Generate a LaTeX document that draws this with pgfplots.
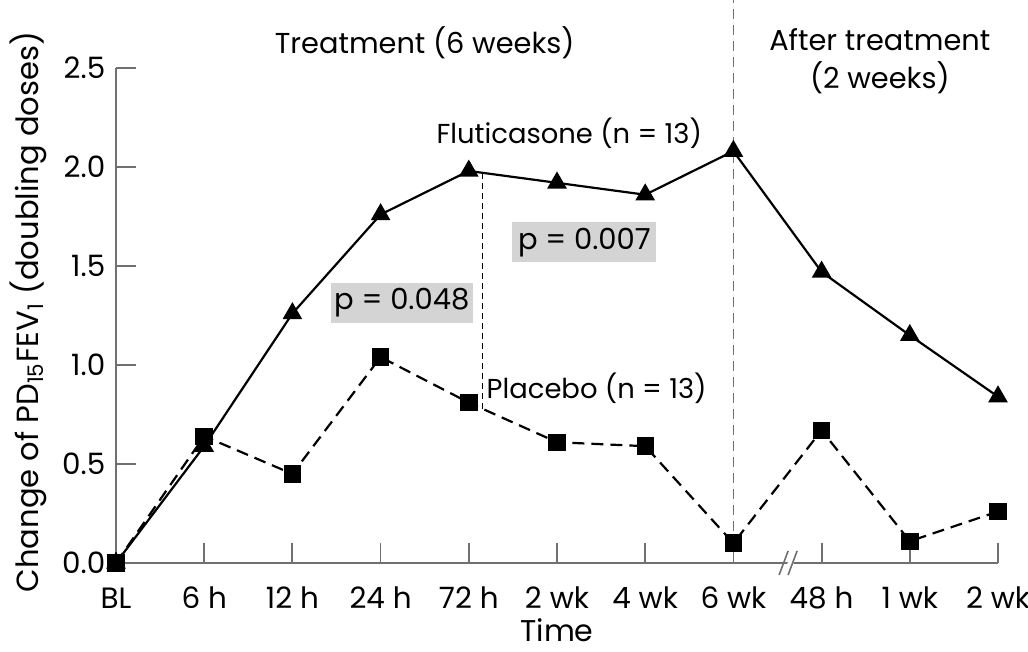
\documentclass[border=0pt]{standalone}
\usepackage{pgfplots}
\pgfplotsset{compat=1.18}
\usepackage{pgfplotstable}
\usepackage{fontspec}
\setmainfont{Poppins}
\usetikzlibrary{calc}
\definecolor{axgray}{HTML}{707070}
\definecolor{boxgray}{HTML}{D4D4D4}
\pgfplotstableread{
x flu pla
0 0.00 0.00
1 0.59 0.64
2 1.26 0.45
3 1.76 1.04
4 1.98 0.81
5 1.92 0.61
6 1.86 0.59
7 2.08 0.10
8 1.47 0.67
9 1.15 0.11
10 0.84 0.26
}\data
\begin{document}
\fontsize{14}{16}\selectfont
\begin{tikzpicture}
\begin{axis}[
  name=ax,
  scale only axis,
  width=441pt, height=247.5pt,
  xmin=0, xmax=10, ymin=0, ymax=2.5,
  axis x line*=bottom, axis y line*=left,
  axis line style={axgray, line width=0.9pt},
  tick style={axgray, line width=0.9pt},
  tick align=inside,
  major tick length=10pt,
  xtick={0,...,10},
  xticklabels={BL,6 h,12 h,24 h,72 h,2 wk,4 wk,6 wk,48 h,1 wk,2 wk},
  ytick={0,0.5,...,2.5},
  yticklabel style={/pgf/number format/fixed,/pgf/number format/fixed zerofill,/pgf/number format/precision=1},
  /pgf/number format/assume math mode=true,
  ticklabel style={font=\fontsize{14.7}{17}\selectfont},
  xticklabel style={anchor=base, yshift=-23pt},
  yticklabel style={anchor=east, xshift=-0.5pt},
  every axis x label/.style={at={(axis description cs:0.5,-0.159)}, anchor=base, inner sep=0pt, font=\fontsize{15}{17}\selectfont},
  every axis y label/.style={at={(axis description cs:-0.0998,0.507)}, rotate=90, anchor=center, inner sep=0pt, font=\fontsize{15.3}{17}\selectfont},
  xlabel={Time},
  ylabel={Change of PD\textsubscript{15}FEV\textsubscript{1} (doubling doses)},
  clip=false,
]
% vertical separator
\draw[axgray, line width=0.8pt, dash pattern=on 5pt off 3pt] (axis cs:7,0) -- (axis cs:7,2.843);
% thin dashed connecting line at 72 h
\draw[black, line width=0.5pt, dash pattern=on 3pt off 2pt] (axis cs:4.16,1.97) -- (axis cs:4.16,0.77);
% axis break
\fill[white] (axis cs:7.62,0) ++(-2.5pt,-6pt) -- ++(4.5pt,12pt) -- ++(3pt,0) -- ++(-4.5pt,-12pt) -- cycle;
\draw[axgray, line width=0.8pt] (axis cs:7.62,0) ++(-4.5pt,-6pt) -- ++(4.5pt,12pt);
\draw[axgray, line width=0.8pt] (axis cs:7.62,0) ++(0pt,-6pt) -- ++(4.5pt,12pt);
% series
\addplot[black, line width=1.1pt, dash pattern=on 6pt off 3.5pt, mark=square*, mark size=3.8pt, mark options={solid}] table[x=x, y=pla] {\data};
\addplot[black, line width=1.1pt, mark=triangle*, mark size=4.6pt, mark options={solid}] table[x=x, y=flu] {\data};
% annotations
\node[fill=boxgray, inner sep=0pt, minimum width=71pt, minimum height=20pt, font=\fontsize{14.5}{16}\selectfont] at (axis cs:3.24,1.313) {p = 0.048};
\node[fill=boxgray, inner sep=0pt, minimum width=72pt, minimum height=20pt, font=\fontsize{14.5}{16}\selectfont] at (axis cs:5.31,1.62) {p = 0.007};
\node[font=\fontsize{13.7}{16}\selectfont] at (axis cs:5.14,2.17) {Fluticasone (n = 13)};
\node[font=\fontsize{13.7}{16}\selectfont] at (axis cs:5.45,0.884) {Placebo (n = 13)};
\node[font=\fontsize{14.4}{16}\selectfont] at (axis cs:3.50,2.63) {Treatment (6 weeks)};
\node[font=\fontsize{14.4}{19}\selectfont, align=center] at (axis cs:8.66,2.535) {After treatment\\(2 weeks)};
\end{axis}
\pgfresetboundingbox
\path[use as bounding box] ($(ax.south west)+(-58pt,-44.5pt)$) rectangle ($(ax.north east)+(15pt,34pt)$);
\end{tikzpicture}
\end{document}
